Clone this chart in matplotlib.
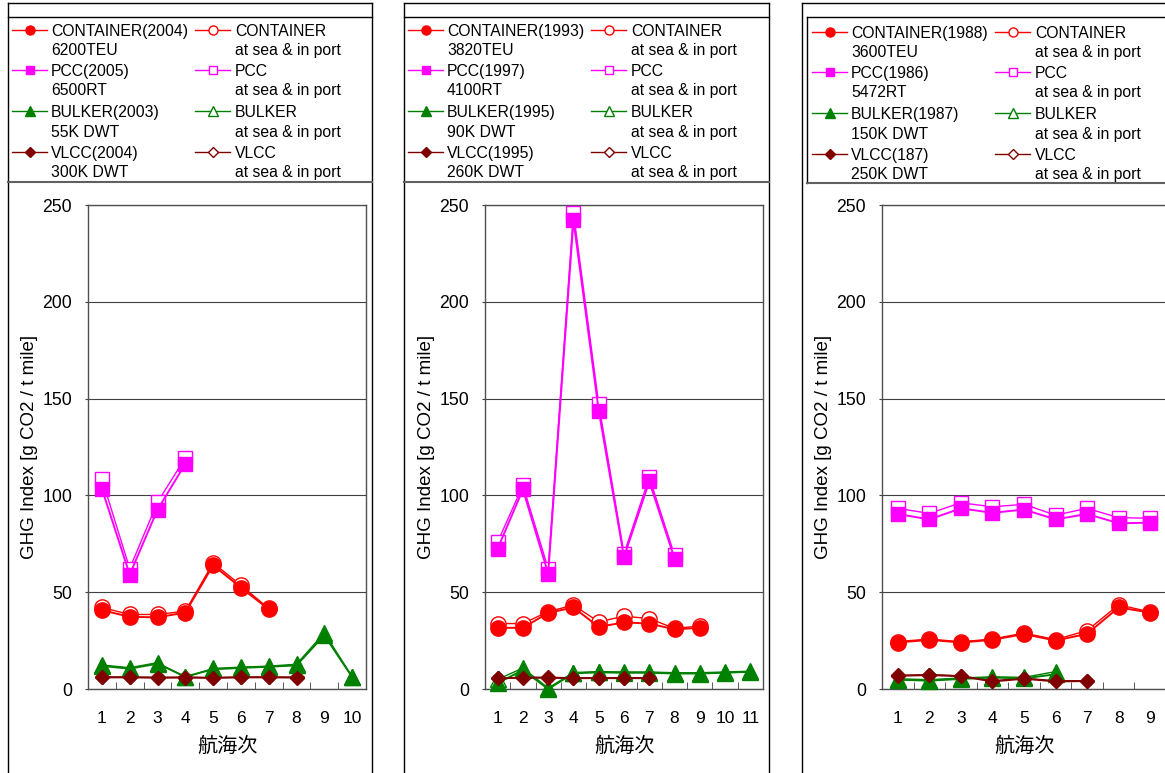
import numpy as np
import matplotlib
matplotlib.use('Agg')
import matplotlib.pyplot as plt
from matplotlib.lines import Line2D

plt.rcParams['font.family'] = ['Liberation Sans', 'Noto Sans CJK JP']

# ---- データ ----
# 左: 新しい船
p1_voyages = 10
p1_container = [40.7, 37.3, 37.0, 39.5, 63.9, 52.4, 41.2]
p1_container_sea = [42.1, 38.5, 38.5, 40.2, 65.1, 53.6, 41.6]
p1_pcc = [103.4, 59.1, 92.6, 116.3]
p1_pcc_sea = [108.6, 62.2, 96.5, 119.4]
p1_bulker = [11.9, 10.5, 13.1, 6.4, 10.2, 10.9, 11.5, 12.2, 27.8, 6.2]
p1_bulker_sea = [12.4, 11.0, 13.6, 6.0, 10.6, 11.3, 11.8, 12.8, 29.0, 6.4]
p1_vlcc = [6.0, 6.0, 5.8, 5.9, 5.7, 6.0, 6.0, 5.9]
p1_vlcc_sea = [6.2, 6.2, 6.0, 6.1, 5.9, 6.2, 6.2, 6.1]
p1_names = ['CONTAINER(2004)', 'PCC(2005)', 'BULKER(2003)', 'VLCC(2004)']
p1_sizes = ['6200TEU', '6500RT', '55K DWT', '300K DWT']

# 中央
p2_voyages = 11
p2_container = [31.6, 31.6, 39.3, 42.1, 32.1, 34.4, 33.8, 30.8, 31.6]
p2_container_sea = [33.8, 33.8, 40.0, 43.3, 34.7, 37.6, 36.4, 31.3, 32.5]
p2_pcc = [72.5, 103.1, 59.6, 242.1, 143.8, 68.2, 107.2, 67.4]
p2_pcc_sea = [75.9, 105.2, 62.2, 246.0, 147.3, 69.9, 109.4, 69.1]
p2_bulker = [3.0, 9.8, 0.0, 8.1, 8.6, 8.4, 8.4, 8.0, 8.0, 8.4, 8.9]
p2_bulker_sea = [5.0, 10.8, 0.5, 8.5, 9.0, 8.8, 8.8, 8.4, 8.4, 8.8, 9.2]
p2_vlcc = [5.5, 5.8, 5.8, 5.6, 5.6, 5.6, 5.6]
p2_vlcc_sea = [5.7, 6.0, 6.0, 5.8, 5.8, 5.8, 5.8]
p2_names = ['CONTAINER(1993)', 'PCC(1997)', 'BULKER(1995)', 'VLCC(1995)']
p2_sizes = ['3820TEU', '4100RT', '90K DWT', '260K DWT']

# 右: 古い船
p3_voyages = 9
p3_container = [24.0, 25.4, 24.0, 25.4, 28.4, 25.0, 28.5, 42.1, 39.5]
p3_container_sea = [24.5, 25.8, 24.4, 25.8, 28.9, 25.5, 30.2, 43.5, 39.8]
p3_pcc = [90.4, 87.6, 93.3, 91.0, 92.7, 87.6, 90.4, 85.6, 85.9]
p3_pcc_sea = [93.3, 90.7, 96.2, 94.1, 95.4, 89.8, 93.3, 88.5, 88.2]
p3_bulker = [4.8, 4.3, 5.2, 5.9, 5.5, 7.6]
p3_bulker_sea = [5.3, 4.8, 5.7, 6.3, 6.0, 9.0]
p3_vlcc = [6.8, 7.2, 6.6, 3.9, 5.3, 3.9, 4.1]
p3_vlcc_sea = [7.0, 7.4, 6.8, 4.2, 5.6, 4.2, 4.3]
p3_names = ['CONTAINER(1988)', 'PCC(1986)', 'BULKER(1987)', 'VLCC(187)']
p3_sizes = ['3600TEU', '5472RT', '150K DWT', '250K DWT']

sea_names = ['CONTAINER', 'PCC', 'BULKER', 'VLCC']
sea_text = 'at sea & in port'

colors = ['#FF0000', '#FF00FF', '#008000', '#800000']
markers = ['o', 's', '^', 'D']
msizes = [11, 10.3, 11, 7.0]
leg_msizes = [6.5, 5.8, 6.5, 4.6]

W, H = 1165, 773
fig = plt.figure(figsize=(W / 100, H / 100), dpi=100)


def fx(x):
    return x / W


def fy(y):
    return 1 - y / H


def fline(xs, ys, color='black', lw=1.0, **kw):
    fig.add_artist(Line2D([fx(v) for v in xs], [fy(v) for v in ys],
                          transform=fig.transFigure, color=color, lw=lw, **kw))


def draw_panel(ax_left, ax_width, nvoy, filled, sea, names, sizes, ox, oy):
    ax = fig.add_axes([fx(ax_left), fy(689), ax_width / W, 484 / H])
    # 外側 (at sea & in port) を先に、実線マーカーを上に
    for i, vals in enumerate(sea):
        ax.plot(range(1, len(vals) + 1), vals, color=colors[i], marker=markers[i],
                ms=msizes[i], mfc='white', mec=colors[i], mew=1.0, lw=1.0,
                clip_on=False, zorder=3)
    for i, vals in enumerate(filled):
        ax.plot(range(1, len(vals) + 1), vals, color=colors[i], marker=markers[i],
                ms=msizes[i], mfc=colors[i], mec=colors[i], lw=1.4,
                clip_on=False, zorder=4)
    ax.set_xlim(0.5, nvoy + 0.5)
    ax.set_ylim(0, 250)
    ax.set_xticks(range(1, nvoy + 1))
    ax.set_xticks(np.arange(1.5, nvoy, 1), minor=True)
    ax.set_yticks(range(0, 251, 50))
    ax.tick_params(axis='x', which='major', length=0, pad=15.5, labelsize=12.5)
    ax.tick_params(axis='x', which='minor', direction='in', length=5, color='#404040')
    ax.tick_params(axis='y', direction='out', length=2.5, pad=9, labelsize=12.7,
                   color='#404040')
    ax.yaxis.grid(True, color='#404040', lw=0.8)
    ax.set_axisbelow(True)
    for s in ax.spines.values():
        s.set_color('#505050')
        s.set_linewidth(1.0)
    ax.set_ylabel('GHG Index [g CO2 / t mile]', fontsize=13.5)
    ax.yaxis.set_label_coords(-50 / ax_width, 0.5)
    ax.set_xlabel('航海次', fontsize=14.5)
    ax.xaxis.set_label_coords(0.5, -0.098)

    # 凡例
    base = [35.7, 75.7, 117.3, 157.7]
    for i in range(4):
        b = base[i] + oy
        for hx, tx, txt1, txt2, face in [(12, 51, names[i], sizes[i], colors[i]),
                                         (195, 235, sea_names[i], sea_text, 'white')]:
            fline([ox + hx, ox + hx + 35], [b - 6, b - 6], color=colors[i], lw=1.0)
            fline([ox + hx + 17.5], [b - 6], color=colors[i], lw=0, marker=markers[i],
                  ms=leg_msizes[i], mfc=face, mec=colors[i], mew=1.0)
            fig.text(fx(ox + tx), fy(b), txt1, fontsize=11.3, va='baseline')
            fig.text(fx(ox + tx), fy(b + 19.3), txt2, fontsize=11.3, va='baseline')
    return ax


draw_panel(88, 278, p1_voyages,
           [p1_container, p1_pcc, p1_bulker, p1_vlcc],
           [p1_container_sea, p1_pcc_sea, p1_bulker_sea, p1_vlcc_sea],
           p1_names, p1_sizes, 0, 0)
draw_panel(485, 278, p2_voyages,
           [p2_container, p2_pcc, p2_bulker, p2_vlcc],
           [p2_container_sea, p2_pcc_sea, p2_bulker_sea, p2_vlcc_sea],
           p2_names, p2_sizes, 396, 0)
draw_panel(882, 284, p3_voyages,
           [p3_container, p3_pcc, p3_bulker, p3_vlcc],
           [p3_container_sea, p3_pcc_sea, p3_bulker_sea, p3_vlcc_sea],
           p3_names, p3_sizes, 800, 2)

# 枠線
for x0, x1 in [(8, 372), (404, 769)]:
    fline([x0, x0], [3, 780])
    fline([x1, x1], [3, 780])
    fline([x0, x1], [3, 3])
    fline([x0, x1], [17, 17])
    fline([x0, x1], [182, 182], color='#606060', lw=1.5)
fline([802, 802], [3, 780])
fline([802, 1170], [3, 3])
fline([807, 807], [17, 183])
fline([807, 1170], [17, 17])
fline([807, 1170], [183, 183], color='#606060', lw=1.5)

fig.savefig('out.png', dpi=100)
